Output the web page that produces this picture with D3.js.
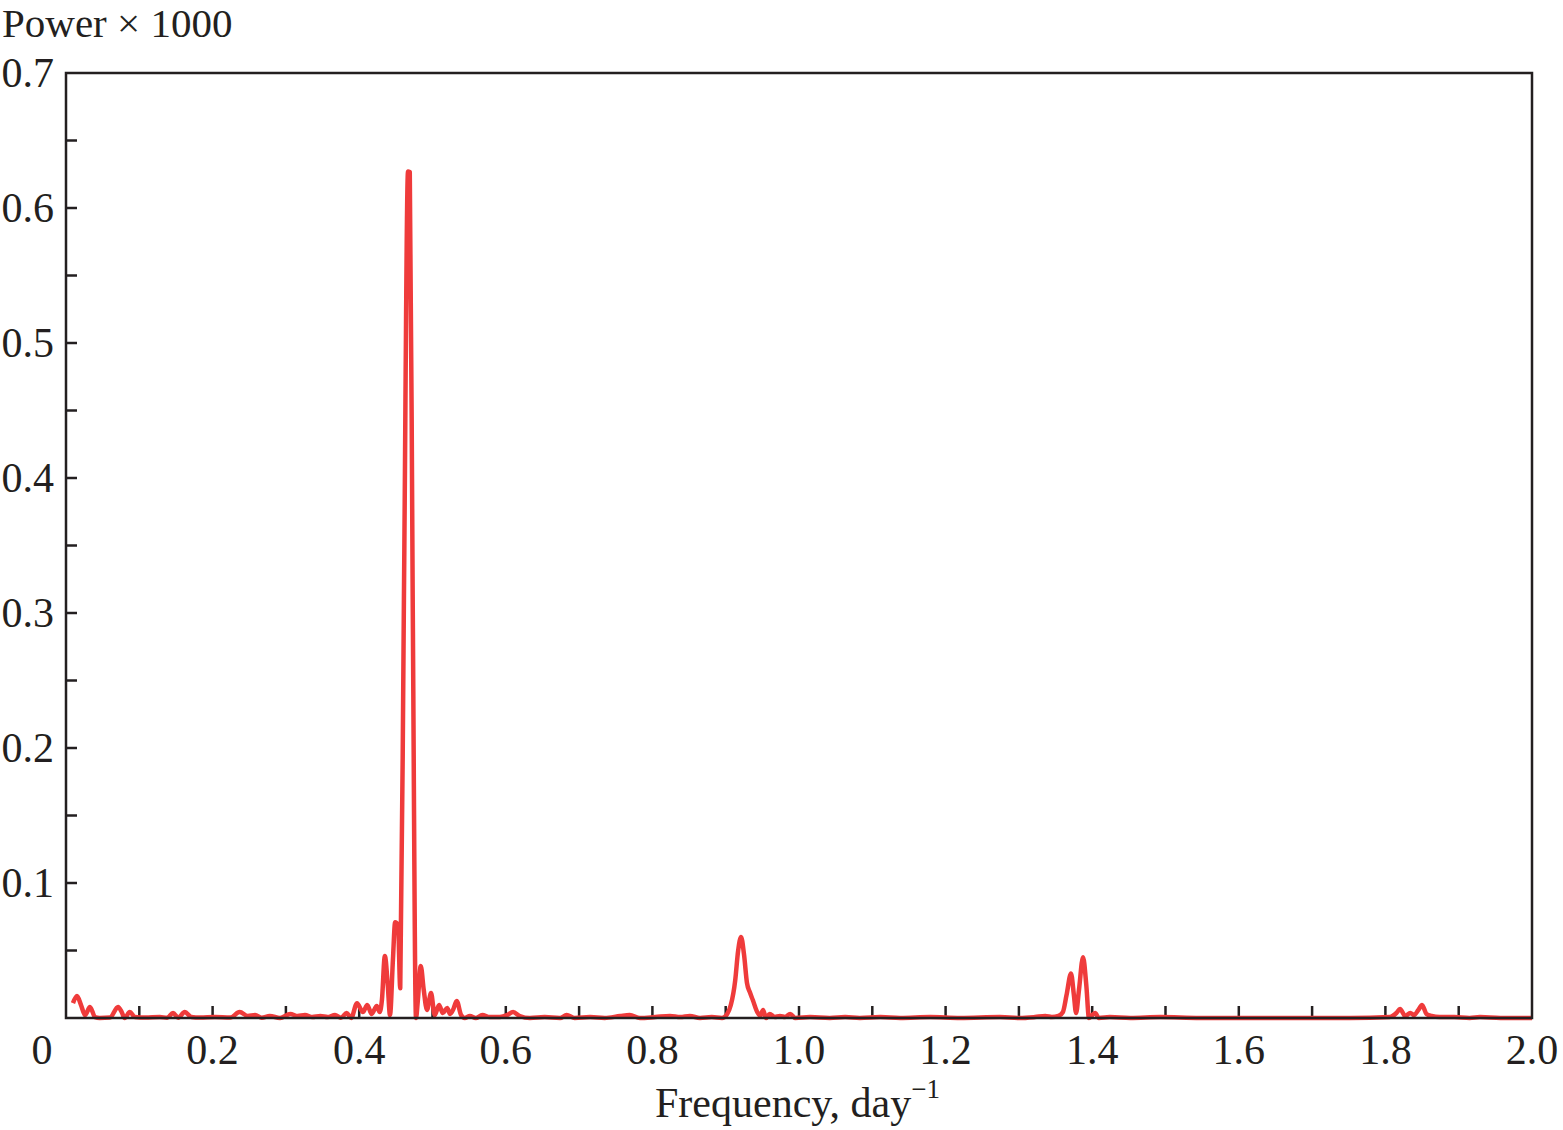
<!DOCTYPE html>
<html>
<head>
<meta charset="utf-8">
<script src="https://cdn.jsdelivr.net/npm/d3@7"></script>
<style>
  html, body { margin: 0; padding: 0; background: #fff; }
  svg text { font-family: "Liberation Serif", "DejaVu Serif", serif; fill: #231f20; }
</style>
</head>
<body>
<svg id="chart" width="1563" height="1130"></svg>
<script>
// ---- data ----
const freq = [0.0095,0.015,0.0205,0.026,0.0327,0.0396,0.046,0.06,0.071,0.076,0.080,0.087,0.094,0.108,0.128,0.138,0.146,0.153,0.162,0.171,0.183,0.203,0.224,0.237,0.248,0.258,0.267,0.278,0.292,0.306,0.316,0.326,0.336,0.347,0.357,0.367,0.375,0.383,0.389,0.397,0.405,0.411,0.417,0.424,0.428,0.431,0.435,0.439,0.442,0.446,0.449,0.453,0.456,0.461,0.4666,0.469,0.473,0.4775,0.480,0.484,0.488,0.4925,0.498,0.503,0.509,0.514,0.520,0.524,0.528,0.533,0.539,0.544,0.551,0.559,0.568,0.578,0.592,0.602,0.610,0.619,0.633,0.653,0.674,0.683,0.694,0.715,0.735,0.756,0.769,0.783,0.804,0.824,0.838,0.851,0.865,0.881,0.895,0.902,0.907,0.913,0.917,0.921,0.925,0.929,0.933,0.937,0.943,0.947,0.951,0.955,0.960,0.967,0.974,0.981,0.988,0.995,1.015,1.042,1.063,1.083,1.111,1.138,1.179,1.22,1.274,1.301,1.322,1.336,1.345,1.354,1.36,1.365,1.3711,1.375,1.378,1.382,1.3875,1.392,1.3956,1.400,1.404,1.409,1.424,1.452,1.493,1.547,1.615,1.684,1.752,1.806,1.815,1.820,1.827,1.834,1.839,1.845,1.850,1.856,1.863,1.874,1.894,1.915,1.929,1.957,2.0];
const power = [0.011,0.0163,0.0096,0.0022,0.0081,0.0007,0,0.0003,0.0081,0.0044,0,0.0044,0.0007,0.0003,0.0007,0.0002,0.0037,0.0002,0.0044,0.0007,0.0003,0.0007,0.0003,0.0044,0.0015,0.0022,0.0002,0.0015,0,0.003,0.0015,0.0022,0.0007,0.0015,0.0007,0.0022,0.0002,0.0037,0,0.011,0.0044,0.0096,0.003,0.0089,0.0044,0.0133,0.046,0.024,0.0022,0.043,0.071,0.069,0.022,0.31,0.627,0.6267,0.31,0,0.013,0.0385,0.021,0.006,0.0185,0.0022,0.0096,0.0037,0.0074,0.003,0.006,0.0126,0.0022,0,0.0015,0,0.0022,0.0007,0.0007,0.0022,0.0044,0.0015,0,0.0007,0,0.0022,0,0.0007,0,0.0015,0.0022,0,0.0007,0.0015,0.0007,0.0015,0,0.0007,0,0.003,0.0096,0.028,0.050,0.060,0.047,0.026,0.019,0.0133,0.0044,0.0015,0.006,0,0.003,0.0007,0.0015,0.0007,0.003,0,0.0007,0,0.0007,0,0.0007,0,0.0007,0,0.0007,0,0.0007,0.0015,0.0007,0.0015,0.0044,0.017,0.033,0.017,0.0037,0.021,0.045,0.024,0,0.0022,0.0037,0,0.0007,0,0.0007,0,0,0,0,0.0007,0.0037,0.0067,0.0015,0.0037,0.0022,0.006,0.0096,0.003,0.0015,0.0007,0.0007,0,0.0007,0,0];
const xTickValues = [0.2,0.4,0.6,0.8,1.0,1.2,1.4,1.6,1.8,2.0];
const xTickLabels = ["0.2","0.4","0.6","0.8","1.0","1.2","1.4","1.6","1.8","2.0"];
const yTickValues = [0.1,0.2,0.3,0.4,0.5,0.6,0.7];
const yTickLabels = ["0.1","0.2","0.3","0.4","0.5","0.6","0.7"];
const originLabel = "0";
const yTitle = "Power × 1000";
const xTitle = "Frequency, day";

// ---- layout ----
const svg = d3.select("#chart");
const mLeft = 66, mRight = 1532, mTop = 73, mBottom = 1018;
const x = d3.scaleLinear().domain([0, 2]).range([mLeft, mRight]);
const y = d3.scaleLinear().domain([0, 0.7]).range([mBottom, mTop]);
const fs = 42;
const ink = "#231f20";

// minor/major ticks (inward)
const xTicksAll = d3.range(1, 20).map(i => i / 10);
svg.append("g").selectAll("line").data(xTicksAll).join("line")
  .attr("x1", d => x(d)).attr("x2", d => x(d))
  .attr("y1", mBottom).attr("y2", mBottom - 12)
  .attr("stroke", ink).attr("stroke-width", 2.5);
const yTicksAll = d3.range(1, 14).map(i => i * 0.05);
svg.append("g").selectAll("line").data(yTicksAll).join("line")
  .attr("x1", mLeft).attr("x2", mLeft + 11)
  .attr("y1", d => y(d)).attr("y2", d => y(d))
  .attr("stroke", ink).attr("stroke-width", 2.5);

// data line
const n = Math.min(freq.length, power.length);
const pts = d3.range(n).map(i => [freq[i], power[i]]);
const line = d3.line().x(d => x(d[0])).y(d => y(d[1])).curve(d3.curveMonotoneX);
svg.append("path").datum(pts)
  .attr("d", line)
  .attr("fill", "none")
  .attr("stroke", "#ef3b3b")
  .attr("stroke-width", 4.5)
  .attr("stroke-linejoin", "round");

// frame
svg.append("rect")
  .attr("x", mLeft).attr("y", mTop)
  .attr("width", mRight - mLeft).attr("height", mBottom - mTop)
  .attr("fill", "none").attr("stroke", ink).attr("stroke-width", 2.5);

// tick labels
svg.append("g").selectAll("text").data(xTickValues).join("text")
  .attr("x", d => x(d)).attr("y", 1064)
  .attr("text-anchor", "middle").attr("font-size", fs)
  .text((d, i) => xTickLabels[i]);
svg.append("text").attr("x", 42).attr("y", 1064)
  .attr("text-anchor", "middle").attr("font-size", fs).text(originLabel);
svg.append("g").selectAll("text").data(yTickValues).join("text")
  .attr("x", 54).attr("y", d => y(d) + 14)
  .attr("text-anchor", "end").attr("font-size", fs)
  .text((d, i) => yTickLabels[i]);

// titles
svg.append("text").attr("x", 2).attr("y", 37)
  .attr("font-size", 41).text(yTitle);
const xt = svg.append("text").attr("x", 655).attr("y", 1117)
  .attr("text-anchor", "start").attr("font-size", fs);
xt.append("tspan").text(xTitle);
xt.append("tspan").attr("dy", -19).attr("font-size", 27).text("−1");
</script>
</body>
</html>
